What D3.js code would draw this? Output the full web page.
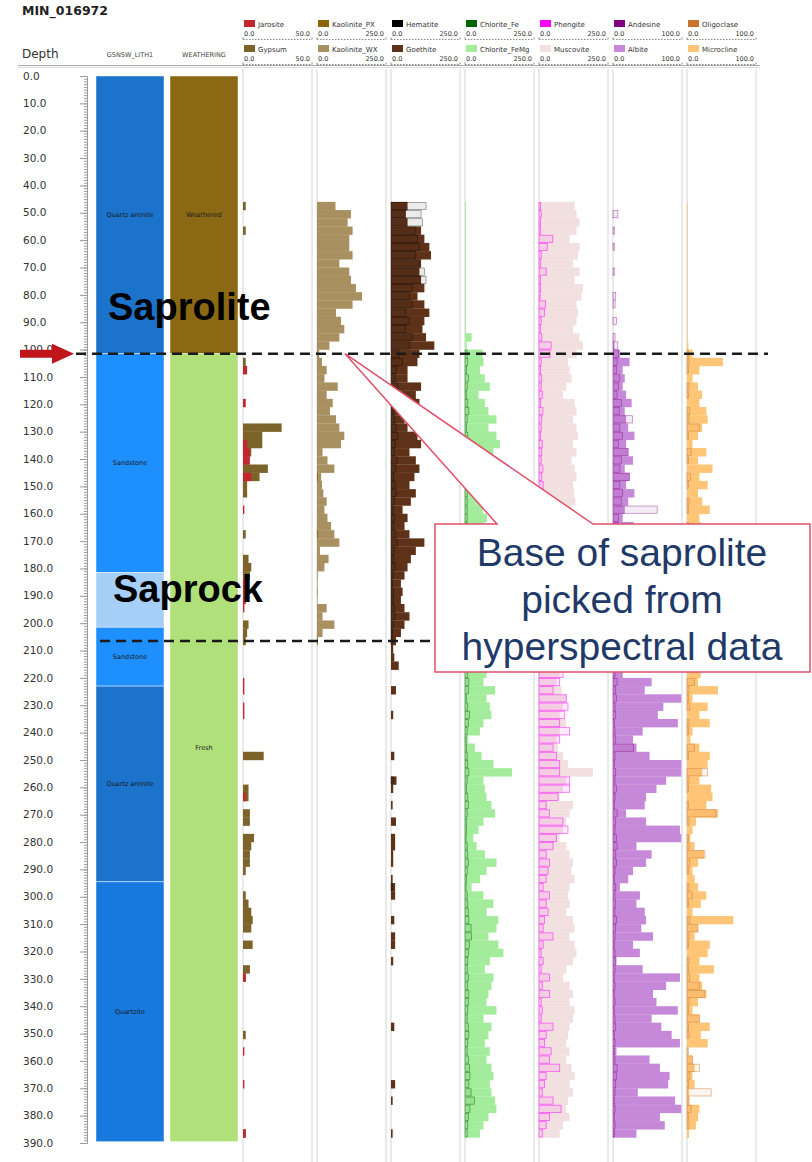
<!DOCTYPE html>
<html>
<head>
<meta charset="utf-8">
<script src="https://cdn.jsdelivr.net/npm/d3@7"></script>
<style>
  body { margin: 0; background: #fff; }
  svg { display: block; }
</style>
</head>
<body>
<div id="chart"></div>
<script>
// mineral logs are sampled in 3 m bins starting at 46 m
const binStart = 46;
const binSize = 3;

// legend names, first row / second row, and the scale max of each track
const row1Names = ["Jarosite", "Kaolinite_PX", "Hematite", "Chlorite_Fe", "Phengite", "Andesine", "Oligoclase"];
const row2Names = ["Gypsum", "Kaolinite_WX", "Goethite", "Chlorite_FeMg", "Muscovite", "Albite", "Microcline"];
const trackMax = [50, 250, 250, 250, 250, 100, 100];

// lithology and weathering intervals (m)
const lithTop  = [0, 101.5, 181.5, 201.5, 223, 294.5];
const lithBase = [101.5, 181.5, 201.5, 223, 294.5, 389.5];
const lithName = ["Quartz arenite", "Sandstone", "", "Sandstone", "Quartz arenite", "Quartzite"];
const weathTop  = [0, 101.5];
const weathBase = [101.5, 389.5];
const weathName = ["Weathered", "Fresh"];

const depthTicks = d3.range(0, 391, 10);

// series values, one per bin
const jarosite = [
  0,0,0,0,0,0,0,0,0,0, 0,0,0,0,0,0,0,0,0,0,
  3,0,0,0,2,0,0,0,0,3, 5,5,0,6,0,0,0,1,0,0,
  0,0,0,0,0,0,2,2,2,1, 0,0,0,0,0,0,0,0,1,1,
  0,1,1,0,0,0,0,0,0,0, 0,0,2,0,0,0,0,0,0,0,
  0,0,0,0,0,0,0,0,0,0, 0,0,0,0,2,0,0,0,0,0,
  0,0,0,1,0,0,0,1,0,0, 0,0,0,2];
const gypsum = [
  2,0,0,2,0,0,0,0,0,0, 0,0,0,0,0,0,0,0,0,2,
  0,0,0,0,0,0,0,28,14,14, 6,3,18,12,3,3,0,0,0,0,
  2,0,0,4,6,5,0,0,0,0, 0,4,3,2,0,0,0,0,0,0,
  0,0,0,0,0,0,0,15,0,0, 0,4,4,0,5,5,0,8,6,5,
  5,2,0,0,2,4,6,7,6,0, 7,0,0,5,2,0,0,0,0,0,
  0,2,0,0,0,0,0,0,0,0, 0,0,0,2];
const kaolinitePX = [
  0,0,0,0,0,0,0,0,0,0, 0,0,0,0,0,0,0,0,0,0,
  0,0,0,0,0,0,0,0,0,0, 0,0,0,3,0,0,0,0,0,0,
  3,0,0,0,0,0,0,2,0,0, 0,0,0,3,0,0,0,0,0,0,
  0,0,0,0,0,0,0,0,0,0, 0,0,0,0,0,0,0,0,0,0,
  0,0,0,0,0,0,0,0,0,0, 0,0,0,0,0,0,0,0,0,0,
  0,0,0,0,0,0,0,0,0,0, 0,0,0,0];
const kaoliniteWX = [
  67,123,111,129,117,117,129,81,117,123, 141,163,129,69,87,99,81,45,8,18,
  35,27,75,35,57,47,69,81,99,87, 20,38,63,15,18,23,35,27,38,51,
  63,81,11,42,27,3,2,0,2,35, 20,63,20,0,0,0,0,0,0,0,
  0,0,0,0,0,0,0,0,0,0, 0,0,0,0,0,0,0,0,0,0,
  0,0,0,0,0,0,0,0,0,0, 0,0,0,0,0,0,0,0,0,0,
  0,0,0,0,0,0,0,0,0,0, 0,0,0,0];
const hematite = [
  127,109,114,90,96,103,90,103,121,127, 78,67,78,54,67,54,78,67,30,42,
  20,15,25,12,18,10,14,20,25,16, 12,22,18,10,15,20,12,8,14,10,
  16,24,12,10,15,8,6,10,8,12, 15,8,6,5,0,0,0,0,0,0,
  0,0,0,0,0,0,0,0,0,0, 8,0,0,0,0,0,0,0,0,0,
  0,0,0,6,0,0,0,0,0,0, 0,0,0,0,0,0,0,0,0,0,
  0,0,0,0,0,0,0,0,0,0, 0,0,0,0];
const goethite = [
  60,54,60,109,121,139,145,109,103,109, 121,96,121,139,121,114,127,157,103,96,
  60,60,109,90,103,49,49,60,96,109, 67,90,103,85,67,90,72,42,60,49,
  67,121,90,72,60,49,36,42,36,49, 67,49,36,18,8,12,28,0,0,18,
  0,0,8,0,0,0,0,12,0,0, 20,8,0,6,0,18,0,15,15,8,
  8,0,6,15,15,0,0,12,0,15, 15,0,8,0,0,0,0,0,0,0,
  12,0,0,0,0,0,0,15,0,6, 0,0,0,6];
const chloriteFe = [
  0,0,0,0,0,0,0,0,0,0, 0,0,0,0,0,0,0,0,8,10,
  6,12,8,6,10,14,8,6,10,12, 8,6,10,8,8,8,8,8,8,8,
  8,8,8,8,8,8,8,8,8,8, 8,8,8,8,8,8,8,10,14,12,
  6,10,16,12,8,4,6,8,10,14, 8,6,10,12,8,6,6,4,8,10,
  12,8,6,4,8,10,12,14,22,24, 16,12,10,8,12,10,14,12,10,8,
  12,14,10,8,12,16,18,14,22,34, 18,12,10,8];
const chloriteFeMg = [
  3,3,3,3,3,3,3,3,3,3, 3,3,3,3,3,3,24,6,64,67,
  54,72,90,49,72,85,114,85,114,127, 103,103,78,85,80,70,75,65,80,70,
  75,82,70,88,76,72,80,86,70,78, 84,66,74,80,72,78,70,78,67,109,
  78,90,96,67,54,12,36,60,103,170, 67,72,78,96,109,67,49,30,42,72,
  114,78,54,24,67,103,78,121,114,85, 121,139,90,72,103,96,85,78,114,67,
  96,85,72,90,78,96,103,90,96,109, 114,85,67,54];
const phengite = [
  6,8,5,6,50,30,8,6,26,5, 6,4,24,20,8,5,10,44,40,8,
  6,10,8,12,6,14,10,8,6,12, 10,8,14,10,15,15,15,15,15,15,
  15,15,15,15,15,15,15,15,15,15, 15,15,15,15,15,15,15,87,75,51,
  99,105,93,75,111,75,51,63,75,75, 111,111,69,26,38,87,105,63,51,26,
  38,33,26,15,38,26,33,20,15,51, 15,8,15,8,38,12,38,8,12,8,
  51,26,20,44,38,75,26,20,12,51, 80,38,26,12];
const muscovite = [
  129,136,147,136,111,147,141,123,147,129, 159,154,136,141,136,123,147,159,136,105,
  111,118,99,87,129,136,123,136,141,123, 136,118,129,136,123,127,132,117,120,125,
  118,130,122,115,126,120,112,118,124,110, 105,115,100,95,90,85,80,75,63,82,
  99,87,75,99,75,63,69,87,105,196, 99,87,75,123,111,99,87,75,99,111,
  123,118,129,111,105,111,99,123,129,111, 129,136,123,99,87,111,123,111,129,123,
  111,105,99,111,99,118,129,111,123,105, 99,111,87,75];
const andesine = [
  0,7,0,2,0,2,0,0,2,0, 0,4,3,0,5,0,3,7,8,6,
  5,10,8,6,12,9,28,10,14,8, 22,12,10,24,10,14,12,64,8,8,
  8,8,8,8,8,8,8,8,8,8, 8,8,8,8,8,8,8,3,6,4,
  5,3,4,2,3,4,30,3,2,4, 3,5,3,2,6,4,3,5,6,4,
  5,3,2,4,3,4,3,5,4,3, 2,3,4,3,2,3,2,3,2,3,
  4,2,3,2,3,6,5,4,3,2, 3,2,3,2];
const albite = [
  0,0,0,0,0,0,0,0,0,0, 0,0,0,0,0,0,0,2,10,24,
  14,17,14,19,27,17,19,22,31,19, 22,29,17,24,19,31,22,17,14,30,
  40,55,35,60,45,50,70,40,55,65, 45,60,80,50,70,60,45,14,56,46,
  99,73,65,94,43,29,34,53,99,99, 77,63,48,46,19,48,97,99,34,56,
  48,29,22,10,39,34,46,48,41,58, 29,39,5,43,97,77,58,63,94,56,
  70,85,97,5,53,68,82,80,36,90, 99,68,75,34];
const oligoclase = [
  0,0,0,0,0,0,0,0,0,0, 0,0,0,0,0,0,0,0,2,3,
  2,0,3,2,0,4,3,18,2,0, 6,2,0,5,2,0,3,2,0,2,
  2,0,3,0,2,0,2,0,3,0, 2,0,2,0,3,0,2,0,11,3,
  2,4,0,3,2,0,11,2,0,30, 3,2,0,2,42,3,0,2,3,26,
  4,2,0,3,8,2,0,4,16,3, 2,0,3,2,4,18,26,3,2,18,
  2,3,0,2,8,18,4,2,35,3, 6,2,3,0];
const microcline = [
  1,1,1,1,1,1,1,1,1,1, 1,1,1,1,1,1,1,2,8,52,
  18,8,16,22,18,28,30,22,16,8, 28,16,37,18,30,16,22,33,18,20,
  25,15,30,22,18,28,20,24,16,26, 20,18,30,22,25,18,20,20,16,45,
  8,30,18,33,8,5,18,33,30,22, 18,35,37,28,45,13,8,5,11,25,
  16,8,11,16,28,20,8,67,16,11, 33,30,18,39,18,22,28,16,8,18,
  33,20,30,1,8,11,8,11,3,3, 18,16,13,3];

function pageLoad() {

const W = 812, H = 1162;
const trackX = [243, 317, 391, 465, 539, 613, 687];
const trackW = 69;
const uiFont = "'DejaVu Sans', Verdana, sans-serif";
const bigFont = "'Liberation Sans', Arial, sans-serif";

const colors = {
  Jarosite: "#c0282d", Gypsum: "#7b6329",
  Kaolinite_PX: "#8b6508", Kaolinite_WX: "#a89061",
  Hematite: "#000000", Goethite: "#5e3219",
  Chlorite_Fe: "#006400", Chlorite_FeMg: "#a3ec9b",
  Phengite: "#ff00ff", Muscovite: "#f2dfe0",
  Andesine: "#800080", Albite: "#c688d8",
  Oligoclase: "#c8742e", Microcline: "#ffc576"
};
const lithColors = {"Quartz arenite": "#1b73cb", "Sandstone": "#1e8fff", "": "#a6cff7", "Quartzite": "#1779dd"};
const weathColors = {"Weathered": "#8b6914", "Fresh": "#b0e07a"};

// row 2 series are drawn filled, row 1 series on top (outlined, with a stroke weight)
const trackSeries = [
  [gypsum, jarosite], [kaoliniteWX, kaolinitePX], [goethite, hematite],
  [chloriteFeMg, chloriteFe], [muscovite, phengite], [albite, andesine], [microcline, oligoclase]
];
const row1Stroke = [0, 0, 0.55, 0.7, 0.8, 0.6, 0.7];

const svg = d3.select("#chart")
  .append("svg")
    .attr("width", W)
    .attr("height", H)
    .style("font-family", uiFont);

const y = d3.scaleLinear().domain([0, 390]).range([76, 1143]);

// title and header
svg.append("text")
  .attr("x", 22).attr("y", 15)
  .style("font-size", "12.5px").style("font-weight", "bold").attr("fill", "#222")
  .text("MIN_016972");
svg.append("text")
  .attr("x", 22).attr("y", 58)
  .style("font-size", "12px").attr("fill", "#333")
  .text("Depth");
svg.append("text")
  .attr("x", 130).attr("y", 57).attr("text-anchor", "middle")
  .style("font-size", "6.5px").attr("fill", "#444")
  .text("GSNSW_LITH1");
svg.append("text")
  .attr("x", 204).attr("y", 57).attr("text-anchor", "middle")
  .style("font-size", "6.5px").attr("fill", "#444")
  .text("WEATHERING");

// legend
const legend = svg.append("g");
trackX.forEach(function (x0, i) {
  [row1Names[i], row2Names[i]].forEach(function (name, r) {
    const top = r === 0 ? 20 : 45;
    legend.append("rect")
      .attr("x", x0 + 1).attr("y", top)
      .attr("width", 11).attr("height", 7)
      .attr("fill", colors[name]);
    legend.append("text")
      .attr("x", x0 + 15).attr("y", top + 6.5)
      .style("font-size", "7px").attr("fill", "#333")
      .text(name);
    legend.append("text")
      .attr("x", x0 + 1).attr("y", top + 16)
      .style("font-size", "6.5px").attr("fill", "#333")
      .text("0.0");
    legend.append("text")
      .attr("x", x0 + 67).attr("y", top + 16).attr("text-anchor", "end")
      .style("font-size", "6.5px").attr("fill", "#333")
      .text(trackMax[i].toFixed(1));
    legend.append("line")
      .attr("x1", x0).attr("x2", x0 + trackW)
      .attr("y1", top + 19.5).attr("y2", top + 19.5)
      .attr("stroke", "#888").attr("stroke-dasharray", "1.5,1.5");
    [x0, x0 + trackW].forEach(function (xe) {
      legend.append("line")
        .attr("x1", xe).attr("x2", xe)
        .attr("y1", top + 17.5).attr("y2", top + 19.5)
        .attr("stroke", "#888");
    });
  });
});

svg.append("line")
  .attr("x1", 18).attr("x2", 760).attr("y1", 65.5).attr("y2", 65.5)
  .attr("stroke", "#aaa").attr("stroke-width", 1);
svg.append("line")
  .attr("x1", 18).attr("x2", 760).attr("y1", 67.5).attr("y2", 67.5)
  .attr("stroke", "#ddd").attr("stroke-width", 1);

// track borders
trackX.forEach(function (x0) {
  [x0, x0 + trackW].forEach(function (xe) {
    svg.append("line")
      .attr("x1", xe).attr("x2", xe).attr("y1", 69).attr("y2", H)
      .attr("stroke", "#e2e2e2").attr("stroke-width", 1.5);
  });
});

// depth ruler and labels
svg.append("g")
  .attr("transform", "translate(87,0)")
  .call(d3.axisLeft(y).tickValues(d3.range(0, 391, 1)).tickSize(3).tickFormat(""))
  .call(g => g.selectAll("line, path").attr("stroke", "#9a9a9a"));
svg.append("g")
  .attr("transform", "translate(87,0)")
  .call(d3.axisLeft(y).tickValues(depthTicks).tickSize(7).tickFormat(""))
  .call(g => g.select(".domain").remove())
  .call(g => g.selectAll("line").attr("stroke", "#9a9a9a"));
svg.append("g").selectAll("text")
  .data(depthTicks)
  .join("text")
    .attr("x", 23)
    .attr("y", d => y(d))
    .attr("dy", "0.35em")
    .style("font-size", "10.5px")
    .attr("fill", "#333")
    .text(d => d.toFixed(1));

// lithology and weathering columns
function drawIntervals(x0, tops, bases, names, palette) {
  const g = svg.append("g");
  g.selectAll("rect")
    .data(tops.map((t, i) => ({top: t, base: bases[i], name: names[i]})))
    .join("rect")
      .attr("x", x0).attr("width", 68)
      .attr("y", d => y(d.top)).attr("height", d => y(d.base) - y(d.top))
      .attr("fill", d => palette[d.name])
      .attr("stroke", "rgba(255,255,255,0.45)").attr("stroke-width", 1);
  g.selectAll("text")
    .data(tops.map((t, i) => ({mid: (t + bases[i]) / 2, name: names[i]})).filter(d => d.name))
    .join("text")
      .attr("x", x0 + 34).attr("y", d => y(d.mid)).attr("dy", "0.35em")
      .attr("text-anchor", "middle")
      .style("font-size", "6.5px").attr("fill", "#1a1a1a")
      .text(d => d.name);
}
drawIntervals(96, lithTop, lithBase, lithName, lithColors);
drawIntervals(170, weathTop, weathBase, weathName, weathColors);

// mineral bars
function drawSeries(x, data, color, strokeW) {
  const bars = data.map((v, i) => ({v: v, d: binStart + i * binSize})).filter(o => o.v > 0);
  const sel = svg.append("g").selectAll("rect")
    .data(bars)
    .join("rect")
      .attr("x", x(0))
      .attr("width", o => x(o.v) - x(0));
  if (strokeW) {
    sel.attr("y", o => y(o.d) + 0.5)
      .attr("height", o => y(o.d + binSize) - y(o.d) - 1)
      .attr("fill", color).attr("fill-opacity", 0.08)
      .attr("stroke", color).attr("stroke-width", strokeW).attr("stroke-opacity", 0.6);
  } else {
    sel.attr("y", o => y(o.d))
      .attr("height", o => y(o.d + binSize) - y(o.d) + 0.2)
      .attr("fill", color);
  }
}
trackX.forEach(function (x0, i) {
  const x = d3.scaleLinear().domain([0, trackMax[i]]).range([x0, x0 + trackW]);
  drawSeries(x, trackSeries[i][0], colors[row2Names[i]], 0);
  drawSeries(x, trackSeries[i][1], colors[row1Names[i]], row1Stroke[i]);
});

// base of saprock
svg.append("line")
  .attr("x1", 100).attr("x2", 435).attr("y1", y(206.5)).attr("y2", y(206.5))
  .attr("stroke", "#1a1a1a").attr("stroke-width", 2.5).attr("stroke-dasharray", "10,6");

// callout
const tip = [345, y(101.5)];
svg.append("path")
  .attr("d", "M435,524 L497,524 L" + tip[0] + "," + tip[1] + " L593,524 L810,524 L810,672 L435,672 Z")
  .attr("fill", "#fff").attr("stroke", "#e0506a").attr("stroke-width", 1.5);
["Base of saprolite", "picked from", "hyperspectral data"].forEach(function (t, i) {
  svg.append("text")
    .attr("x", 622).attr("y", 566 + i * 47).attr("text-anchor", "middle")
    .style("font-family", bigFont).style("font-size", "39px").attr("fill", "#1f3a68")
    .text(t);
});

// base of saprolite
svg.append("line")
  .attr("x1", 76).attr("x2", 768).attr("y1", tip[1]).attr("y2", tip[1])
  .attr("stroke", "#1a1a1a").attr("stroke-width", 2.5).attr("stroke-dasharray", "10,6");

svg.append("polygon")
  .attr("points", [[20, tip[1] - 4], [52, tip[1] - 4], [52, tip[1] - 10], [74, tip[1]],
                   [52, tip[1] + 10], [52, tip[1] + 4], [20, tip[1] + 4]].join(" "))
  .attr("fill", "#c0161b");

svg.append("text")
  .attr("x", 108).attr("y", 320)
  .style("font-family", bigFont).style("font-size", "38px").style("font-weight", "bold")
  .attr("fill", "#000").text("Saprolite");
svg.append("text")
  .attr("x", 113).attr("y", 602)
  .style("font-family", bigFont).style("font-size", "38px").style("font-weight", "bold")
  .attr("fill", "#000").text("Saprock");
}

window.addEventListener("load", pageLoad);
</script>
</body>
</html>
